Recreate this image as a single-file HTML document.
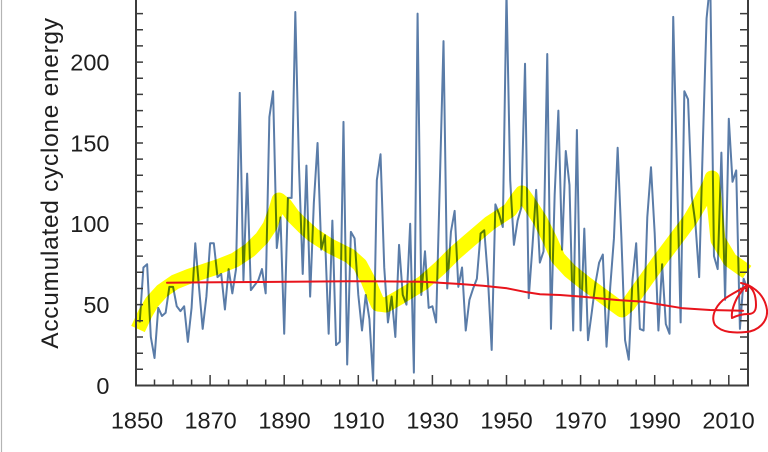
<!DOCTYPE html>
<html><head><meta charset="utf-8"><style>html,body{margin:0;padding:0;background:#fff;}svg{display:block}</style></head>
<body>
<svg width="768" height="452" viewBox="0 0 768 452" xmlns="http://www.w3.org/2000/svg">
<rect width="768" height="452" fill="#fff"/>
<line x1="1.5" y1="0" x2="1.5" y2="452" stroke="#b4b4b4" stroke-width="1.2"/>

<!-- blue data -->
<g transform="translate(136,385.5) scale(3.705,-1.617)">
<polyline fill="none" stroke="#5a7ca8" stroke-width="2" stroke-linejoin="round" vector-effect="non-scaling-stroke" points="1,39 2,73 3,75 4,30 5,17 6,48 7,43 8,45 9,61 10,61 11,49 12,46 13,49 14,27 15,48 16,88 17,61 18,35 19,55 20,88 21,88 22,67 23,69 24,47 25,72 26,57 27,72 28,181 29,65 30,131 31,59 32,62 33,65 34,72 35,57 36,166 37,182 38,85 39,104 40,32 41,116 42,116 43,231 44,135 45,69 46,136 47,55 48,113 49,150 50,84 51,93 52,32 53,102 54,25 55,27 56,163 57,13 58,95 59,91 60,56 61,34 62,56 63,41 64,3 65,127 66,143 67,73 68,39 69,55 70,30 71,87 72,56 73,50 74,100 75,8 76,230 77,56 78,83 79,48 80,49 81,39 82,125 83,213 84,60 85,95 86,108 87,61 88,73 89,34 90,53 91,60 92,66 93,94 94,96 95,66 96,22 97,112 98,106 99,98 100,243 101,127 102,87 103,102 104,110 105,199 106,54 107,86 108,121 109,76 110,83 111,205 112,35 113,118 114,170 115,84 116,145 117,124 118,34 119,158 120,34 121,97 122,28 123,45 124,63 125,76 126,81 127,24 128,61 129,91 130,147 131,92 132,28 133,16 134,65 135,88 136,35 137,34 138,104 139,135 140,94 141,34 142,75 143,38 144,32 145,228 146,133 147,39 148,182 149,177 150,117 151,100 152,67 153,150 154,227 155,250 156,80 157,72 158,144 159,53 160,165 161,126 162,133 163,35 164,66 165,60"/>
</g>

<!-- yellow highlighter -->
<polyline style="mix-blend-mode:multiply" fill="none" stroke="#ffff00" stroke-width="15" stroke-linejoin="round" stroke-linecap="butt" points="138,329 145,314 152,302 162,291 175,282 190,276 205,271 220,266 235,260 250,250 262,238 270,226 276,210 279,200 285,205 293,216 303,226 313,235 330,246 350,256 360,265 368,280 374,295 378,304 386,305 400,297 423,283 440,268 455,253 470,240 490,223 510,210 518,198 522,193 527,200 540,220 550,240 558,258 570,271 585,283 600,294 615,305 622,310 628,305 640,288 660,260 675,240 690,220 700,203 710,184 712,178 715,210 718,240 730,260 747,272"/>

<!-- axes -->
<g stroke="#3c3c3c" fill="none">
<line x1="136" y1="0" x2="136" y2="386.5" stroke-width="2"/>
<line x1="748" y1="0" x2="748" y2="386.5" stroke-width="2"/>
<line x1="135" y1="385.5" x2="749" y2="385.5" stroke-width="2"/>
<path stroke-width="1.5" d="M136 369.3h7M136 353.2h7M136 337h7M136 320.8h7M136 304.65h7M136 288.5h7M136 272.3h7M136 256.1h7M136 240h7M136 223.8h7M136 207.6h7M136 191.5h7M136 175.3h7M136 159.1h7M136 143h7M136 126.8h7M136 110.6h7M136 94.4h7M136 78.3h7M136 62.1h7M136 45.9h7M136 29.8h7M136 13.6h7"/>
<path stroke-width="1.5" d="M748 369.3h-8M748 353.2h-8M748 337h-8M748 320.8h-8M748 304.65h-8M748 288.5h-8M748 272.3h-8M748 256.1h-8M748 240h-8M748 223.8h-8M748 207.6h-8M748 191.5h-8M748 175.3h-8M748 159.1h-8M748 143h-8M748 126.8h-8M748 110.6h-8M748 94.4h-8M748 78.3h-8M748 62.1h-8M748 45.9h-8M748 29.8h-8M748 13.6h-8"/>
<path stroke-width="1.5" d="M154.5 385.5v-6M173.1 385.5v-6M191.6 385.5v-6M210.1 385.5v-10.5M228.6 385.5v-6M247.2 385.5v-6M265.7 385.5v-6M284.2 385.5v-10.5M302.7 385.5v-6M321.3 385.5v-6M339.8 385.5v-6M358.3 385.5v-10.5M376.8 385.5v-6M395.4 385.5v-6M413.9 385.5v-6M432.4 385.5v-10.5M450.9 385.5v-6M469.5 385.5v-6M488 385.5v-6M506.5 385.5v-10.5M525 385.5v-6M543.6 385.5v-6M562.1 385.5v-6M580.6 385.5v-10.5M599.1 385.5v-6M617.7 385.5v-6M636.2 385.5v-6M654.7 385.5v-10.5M673.2 385.5v-6M691.8 385.5v-6M710.3 385.5v-6M728.8 385.5v-10.5"/>
</g>

<!-- red line & scribble -->
<g fill="none" stroke="#e8141c" stroke-width="2" stroke-linejoin="round" stroke-linecap="round">
<polyline points="167,282.7 200,282.4 260,282 350,281.2 423,281.7 460,284 483,285.7 507,288.3 527,292.3 540,294.3 560,295 583,296.7 617,300 643,301.7 657,304 683,308.3 710,310 743,310.7"/>
<path d="M748,285 C756,289 765,296 767,310 C768,322 758,331 746,332 C735,333 722,333 715,325 C711,318 714,308 723,300 C731,294 740,290 748,285"/>
<path d="M747,285 C753,288 756,295 756,305 C756,312 753,314 748,314 C743,314 738,315 732,318 C731,311 734,304 737,298 C740,293 744,288 747,285"/>
<path d="M741,283 L748,285 L746,291"/>
</g>

<!-- labels -->
<g font-family="'Liberation Sans', sans-serif" font-size="23.5" fill="#1e1e1e">
<g text-anchor="end">
<text x="109.5" y="393.9">0</text>
<text x="109.5" y="313">50</text>
<text x="109.5" y="232.2">100</text>
<text x="109.5" y="151.4">150</text>
<text x="109.5" y="70.5">200</text>
</g>
<g text-anchor="middle">
<text x="137" y="428.3">1850</text>
<text x="210.6" y="428.3">1870</text>
<text x="284.5" y="428.3">1890</text>
<text x="358.5" y="428.3">1910</text>
<text x="432.5" y="428.3">1930</text>
<text x="506.5" y="428.3">1950</text>
<text x="580.6" y="428.3">1970</text>
<text x="654.7" y="428.3">1990</text>
<text x="728.5" y="428.3">2010</text>
</g>
<text transform="translate(58,183) rotate(-90)" text-anchor="middle" font-size="24.5" letter-spacing="0.7">Accumulated cyclone energy</text>
</g>
</svg>
</body></html>
